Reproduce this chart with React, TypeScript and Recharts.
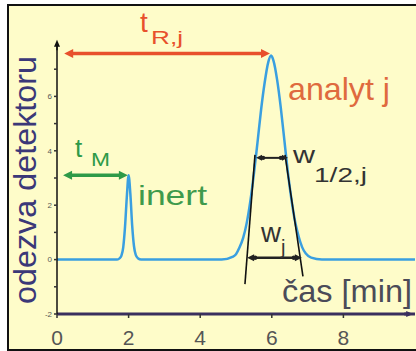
import React from "react";
import { ComposedChart, Line, XAxis, YAxis, ReferenceLine } from "recharts";

// Detector signal (time in min, response)
const times = [0, 1.5, 1.68, 1.75, 1.8, 1.85, 1.9, 1.95, 2.0, 2.05, 2.1, 2.15, 2.2, 2.26, 2.35, 2.6,
  4.6, 4.9, 5.0, 5.1, 5.2, 5.3, 5.4, 5.5, 5.6, 5.7, 5.8, 5.9, 5.98, 6.05, 6.15, 6.25,
  6.35, 6.45, 6.55, 6.65, 6.75, 6.85, 6.95, 7.1, 7.4, 10];
const response = [0, 0, 0, 0.05, 0.15, 0.45, 1.2, 2.3, 3.1, 2.4, 1.25, 0.5, 0.17, 0.05, 0, 0,
  0, 0.1, 0.2, 0.45, 0.8, 1.35, 2.15, 3.15, 4.3, 5.5, 6.5, 7.25, 7.5, 7.3, 6.6, 5.6,
  4.4, 3.2, 2.2, 1.4, 0.85, 0.45, 0.22, 0.07, 0, 0];

const xTicks = [0, 2, 4, 6, 8];
const yTicks = [-2, -1, 0, 1, 2, 3, 4, 5, 6, 7];

// annotation values (data units)
const tR = { from: 0.2, to: 5.95, level: 7.58 };
const tM = { from: 0.17, to: 1.98, level: 3.1 };
const wHalf = { from: 5.56, to: 6.45, level: 3.74 };
const wBase = { from: 5.31, to: 6.84, level: 0.07 };
const tangentLeft = [{ x: 5.53, y: 3.85 }, { x: 5.25, y: -0.9 }];
const tangentRight = [{ x: 6.37, y: 3.85 }, { x: 6.87, y: -0.62 }];

const data = times.map((t, i) => ({ t, v: response[i] }));

type ArrowOpts = { color: string; width: number; head: number; hw: number; start?: boolean; end?: boolean; dots?: boolean };
const arrowShape = (o: ArrowOpts) => (p: any) => {
  const { x1, y1, x2, y2 } = p;
  const dx = x2 - x1, dy = y2 - y1;
  const len = Math.hypot(dx, dy) || 1;
  const ux = dx / len, uy = dy / len, nx = -uy, ny = ux;
  const h = o.head, w = o.hw;
  const sx = o.start ? x1 + ux * h * 0.7 : x1;
  const sy = o.start ? y1 + uy * h * 0.7 : y1;
  const ex = o.end ? x2 - ux * h * 0.7 : x2;
  const ey = o.end ? y2 - uy * h * 0.7 : y2;
  const headAt = (tx: number, ty: number, dirx: number, diry: number) => {
    const bx = tx - dirx * h, by = ty - diry * h;
    return `${tx},${ty} ${bx + nx * w},${by + ny * w} ${bx - nx * w},${by - ny * w}`;
  };
  return (
    <g>
      <line x1={sx} y1={sy} x2={ex} y2={ey} stroke={o.color} strokeWidth={o.width} />
      {o.start && <polygon points={headAt(x1, y1, -ux, -uy)} fill={o.color} />}
      {o.end && <polygon points={headAt(x2, y2, ux, uy)} fill={o.color} />}
      {o.dots && <circle cx={x1 + ux * (h + 1)} cy={y1 + uy * (h + 1)} r={2.2} fill={o.color} />}
      {o.dots && <circle cx={x2 - ux * (h + 1)} cy={y2 - uy * (h + 1)} r={2.2} fill={o.color} />}
    </g>
  );
};

const FONT = '"Liberation Sans", Arial, Helvetica, sans-serif';
const RED = "#e8502c";
const GREEN = "#2e9a48";
const BLUE = "#3a9fe0";

export default function App() {
  return (
    <div style={{ position: "absolute", left: 0, top: 0, width: 416, height: 351, overflow: "hidden", background: "#ffffff" }}>
      <div style={{ position: "absolute", left: 7, top: 4, width: 440, height: 343, border: "2px solid #111", background: "#fefcc9" }} />
      <div style={{ position: "absolute", left: 0, top: 0 }}>
        <ComposedChart width={416} height={351} data={data} margin={{ top: 42, right: 1, bottom: 7, left: 0 }}>
          <XAxis
            type="number"
            dataKey="t"
            domain={[0, 10]}
            ticks={xTicks}
            allowDataOverflow
            height={30}
            tickSize={4}
            tickMargin={12}
            axisLine={{ stroke: "#3a2f5e", strokeWidth: 3 }}
            tickLine={{ stroke: "#333", strokeWidth: 1.5 }}
            tick={{ fill: "#555", fontSize: 21, fontFamily: FONT }}
          />
          <YAxis
            type="number"
            domain={[-2, 8]}
            ticks={yTicks}
            allowDataOverflow
            width={57}
            tickSize={3}
            tickMargin={2}
            tickFormatter={(v: number) => (v % 2 === 0 ? String(v) : "")}
            axisLine={{ stroke: "#111", strokeWidth: 1.5 }}
            tickLine={{ stroke: "#333", strokeWidth: 1.5 }}
            tick={{ fill: "#555", fontSize: 8, fontFamily: FONT }}
          />
          <Line
            type="monotone"
            dataKey="v"
            stroke={BLUE}
            strokeWidth={2.5}
            dot={false}
            isAnimationActive={false}
          />
          <ReferenceLine ifOverflow="visible" segment={[{ x: 0, y: 7.7 }, { x: 0, y: 8.08 }]}
            shape={arrowShape({ color: "#111", width: 1.5, head: 7, hw: 3, end: true })} />
          <ReferenceLine ifOverflow="visible" segment={[{ x: 9.7, y: -2 }, { x: 9.95, y: -2 }]}
            shape={arrowShape({ color: "#3a2f5e", width: 3, head: 7, hw: 3, end: true })} />
          <ReferenceLine ifOverflow="visible" segment={[{ x: tR.from, y: tR.level }, { x: tR.to, y: tR.level }]}
            shape={arrowShape({ color: RED, width: 3.5, head: 9, hw: 4.5, start: true, end: true })} />
          <ReferenceLine ifOverflow="visible" segment={[{ x: tM.from, y: tM.level }, { x: tM.to, y: tM.level }]}
            shape={arrowShape({ color: GREEN, width: 3.5, head: 9, hw: 4.5, start: true, end: true })} />
          <ReferenceLine ifOverflow="visible" segment={tangentLeft}
            shape={arrowShape({ color: "#111", width: 1.6, head: 0, hw: 0 })} />
          <ReferenceLine ifOverflow="visible" segment={tangentRight}
            shape={arrowShape({ color: "#111", width: 1.6, head: 0, hw: 0 })} />
          <ReferenceLine ifOverflow="visible" segment={[{ x: wHalf.from, y: wHalf.level }, { x: wHalf.to, y: wHalf.level }]}
            shape={arrowShape({ color: "#222", width: 2, head: 6, hw: 3, start: true, end: true, dots: true })} />
          <ReferenceLine ifOverflow="visible" segment={[{ x: wBase.from, y: wBase.level }, { x: wBase.to, y: wBase.level }]}
            shape={arrowShape({ color: "#222", width: 2.5, head: 7, hw: 3.5, start: true, end: true, dots: true })} />
        </ComposedChart>
      </div>
      <svg width={416} height={351} style={{ position: "absolute", left: 0, top: 0, pointerEvents: "none" }} fontFamily={FONT}>
        <text x={140} y={32} fontSize={28} fill={RED}>t</text>
        <text x={151} y={44} fontSize={19} fill={RED} textLength={32} lengthAdjust="spacingAndGlyphs">R,j</text>
        <text x={288} y={100} fontSize={32} fill="#df6a3e" textLength={102} lengthAdjust="spacingAndGlyphs">analyt j</text>
        <text x={75} y={157} fontSize={26} fill={GREEN}>t</text>
        <text x={91} y={166} fontSize={18} fill={GREEN} textLength={19} lengthAdjust="spacingAndGlyphs">M</text>
        <text x={138} y={205} fontSize={28} fill="#3f9a4c" textLength={69} lengthAdjust="spacingAndGlyphs">inert</text>
        <text x={293} y={163} fontSize={23} fill="#333" textLength={22} lengthAdjust="spacingAndGlyphs">w</text>
        <text x={314} y={182} fontSize={21} fill="#333" textLength={53} lengthAdjust="spacingAndGlyphs">1/2,j</text>
        <text x={261} y={242} fontSize={27} fill="#333" textLength={20} lengthAdjust="spacingAndGlyphs">w</text>
        <text x={281} y={254} fontSize={20} fill="#333">j</text>
        <text x={282} y={302} fontSize={32} fill="#4b4b58" textLength={130} lengthAdjust="spacingAndGlyphs">čas [min]</text>
        <text transform="translate(36,304) rotate(-90)" x={0} y={0} fontSize={32} fill="#3b3878" textLength={248} lengthAdjust="spacingAndGlyphs">odezva detektoru</text>
      </svg>
    </div>
  );
}
